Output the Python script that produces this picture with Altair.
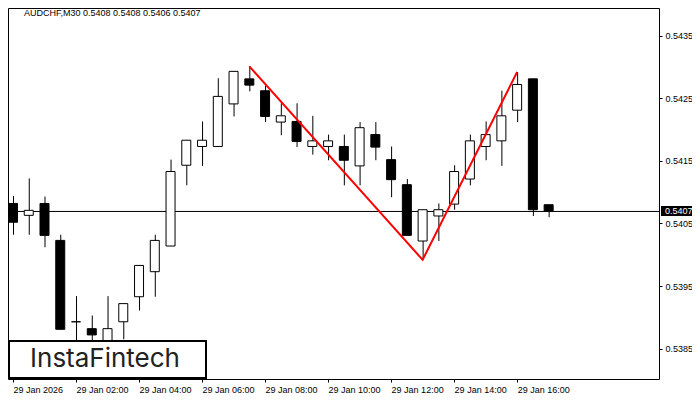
import json
import altair as alt
import pandas as pd

# ---- data (AUDCHF, M30, 29 Jan 2026, candles 00:00 .. 17:00) ----
candle_idx = list(range(35))
opens = [0.54082, 0.54063, 0.54082, 0.54023, 0.53893, 0.53882, 0.53855, 0.53893,
         0.53933, 0.53973, 0.54014, 0.54143, 0.54173, 0.54173, 0.54241, 0.54281,
         0.54262, 0.54212, 0.54213, 0.54173, 0.54173, 0.54173, 0.54142, 0.54192,
         0.54152, 0.54112, 0.54022, 0.54062, 0.54081, 0.54121, 0.54173, 0.54182,
         0.54231, 0.54281, 0.54080]
highs = [0.54094, 0.54122, 0.54093, 0.54032, 0.53934, 0.53903, 0.53934, 0.53922,
         0.53983, 0.54032, 0.54152, 0.54183, 0.54213, 0.54282, 0.54293, 0.54301,
         0.54270, 0.54242, 0.54242, 0.54222, 0.54192, 0.54192, 0.54212, 0.54212,
         0.54173, 0.54121, 0.54072, 0.54082, 0.54143, 0.54192, 0.54213, 0.54262,
         0.54292, 0.54281, 0.54080]
lows = [0.54032, 0.54032, 0.54012, 0.53880, 0.53840, 0.53845, 0.53835, 0.53865,
        0.53911, 0.53933, 0.54014, 0.54111, 0.54142, 0.54173, 0.54221, 0.54261,
        0.54212, 0.54191, 0.54172, 0.54160, 0.54151, 0.54111, 0.54111, 0.54151,
        0.54092, 0.54031, 0.53992, 0.54022, 0.54072, 0.54111, 0.54151, 0.54142,
        0.54212, 0.54062, 0.54060]
closes = [0.54052, 0.54071, 0.54031, 0.53881, 0.53893, 0.53872, 0.53882, 0.53922,
          0.53983, 0.54023, 0.54133, 0.54183, 0.54183, 0.54253, 0.54293, 0.54271,
          0.54221, 0.54222, 0.54181, 0.54182, 0.54182, 0.54151, 0.54203, 0.54172,
          0.54120, 0.54031, 0.54072, 0.54072, 0.54133, 0.54182, 0.54192, 0.54222,
          0.54272, 0.54072, 0.54070]

pattern_idx = [15, 26, 32]
pattern_price = [0.54301, 0.53992, 0.54292]

bid_price = [0.5407]
bid_label = ["0.5407"]

tick_positions = [0, 4, 8, 12, 16, 20, 24, 28, 32]
tick_labels = ["29 Jan 2026", "29 Jan 02:00", "29 Jan 04:00", "29 Jan 06:00",
               "29 Jan 08:00", "29 Jan 10:00", "29 Jan 12:00", "29 Jan 14:00",
               "29 Jan 16:00"]
price_ticks = [0.5385, 0.5395, 0.5405, 0.5415, 0.5425, 0.5435]

header_text = ["AUDCHF,M30  0.5408 0.5408 0.5406 0.5407"]
logo_text = ["InstaFintech"]

# ---- tables ----
df = pd.DataFrame({"k": candle_idx, "open": opens, "high": highs,
                   "low": lows, "close": closes})
df["bull"] = df["close"] >= df["open"]
df["top"] = df[["open", "close"]].max(axis=1)
df["bot"] = df[["open", "close"]].min(axis=1)

pat = pd.DataFrame({"k": pattern_idx, "p": pattern_price, "o": [0, 1, 2]})
bid = pd.DataFrame({"p": bid_price, "label": bid_label})

W, H = 651, 371
FONT = "Liberation Sans"

xs = alt.Scale(domain=[0, W / 16], nice=False, zero=False)
ys = alt.Scale(domain=[0.538016, 0.543942], nice=False, zero=False)

x_axis = alt.Axis(values=tick_positions,
                  labelExpr=json.dumps(tick_labels) + "[round(datum.value / 4)]",
                  orient="bottom", tickSize=3, tickColor="black",
                  labelPadding=3, labelAlign="left", labelBaseline="top",
                  labelFont=FONT, labelFontSize=9, labelColor="black",
                  domain=False, grid=False, labelFlush=False,
                  labelOverlap=False, title=None)
y_axis = alt.Axis(values=price_ticks, format=".4f", orient="right",
                  tickSize=3, tickColor="black", labelPadding=3,
                  labelFont=FONT, labelFontSize=9, labelColor="black",
                  domain=False, grid=False, labelOverlap=False,
                  labelFlush=False, title=None)

base = alt.Chart(df)

bid_line = alt.Chart(bid).mark_rule(color="black", strokeWidth=1, yOffset=0.5).encode(
    y=alt.Y("p:Q", scale=ys, axis=y_axis))

wicks = base.mark_rule(color="black", strokeWidth=1, clip=True, xOffset=0.5).encode(
    x=alt.X("k:Q", scale=xs, axis=x_axis),
    y=alt.Y("low:Q", scale=ys),
    y2="high:Q")

bodies = base.mark_bar(size=9, stroke="black", strokeWidth=1, clip=True).encode(
    x=alt.X("k:Q", scale=xs),
    y=alt.Y("bot:Q", scale=ys),
    y2="top:Q",
    fill=alt.condition("datum.bull", alt.value("white"), alt.value("black")))

pattern = alt.Chart(pat).mark_line(color="#ff0000", strokeWidth=2, clip=True).encode(
    x=alt.X("k:Q", scale=xs),
    y=alt.Y("p:Q", scale=ys),
    order="o:Q")

bid_box = alt.Chart(bid).mark_rect(color="black").transform_calculate(
    lo="datum.p - 0.00008", hi="datum.p + 0.00008").encode(
    x=alt.value(653), x2=alt.value(690),
    y=alt.Y("lo:Q", scale=ys), y2="hi:Q")

bid_text = alt.Chart(bid).mark_text(align="left", baseline="middle", color="white",
                                    font=FONT, fontSize=9).encode(
    x=alt.value(657), y=alt.Y("p:Q", scale=ys), text="label:N")

header = alt.Chart(pd.DataFrame({"t": header_text})).mark_text(
    align="left", baseline="middle", color="black", font=FONT, fontSize=9).encode(
    x=alt.value(16), y=alt.value(5), text="t:N")

logo_box = alt.Chart(pd.DataFrame({"t": logo_text})).mark_rect(
    fill="white", stroke="black", strokeWidth=2).encode(
    x=alt.value(1), x2=alt.value(198), y=alt.value(333), y2=alt.value(370))

logo = alt.Chart(pd.DataFrame({"t": logo_text})).mark_text(
    align="center", baseline="middle", color="#222222", font="Inter",
    fontSize=26, fontWeight=400).encode(
    x=alt.value(97), y=alt.value(351), text="t:N")

chart = alt.layer(bid_line, wicks, bodies, pattern, bid_box, bid_text,
                  header, logo_box, logo).properties(
    width=W, height=H,
    padding={"left": 0, "top": 0, "right": 33, "bottom": 16},
    autosize=alt.AutoSizeParams(type="none"),
    background="white",
).configure_view(stroke="black", strokeWidth=1)

chart.save("out.html", embed_options={"renderer": "svg", "actions": False})
